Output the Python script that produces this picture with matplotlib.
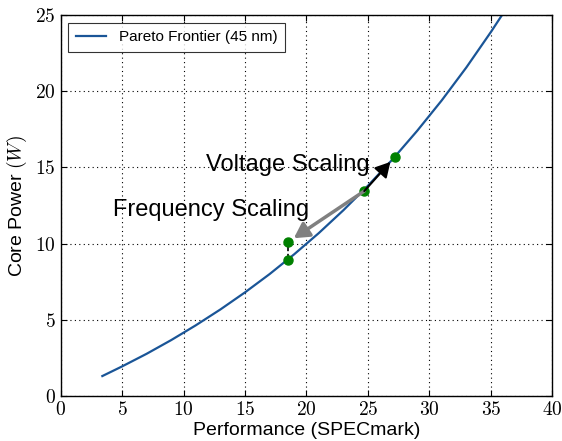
"""Pareto frontier of core power vs performance (45 nm)."""

import matplotlib
matplotlib.use("Agg")
import matplotlib.pyplot as plt
from matplotlib.ticker import FuncFormatter

plt.rcParams["font.family"] = ["Liberation Sans", "DejaVu Sans"]
plt.rcParams["mathtext.fontset"] = "cm"

# Pareto frontier
perf = [3.4, 5, 7, 9, 11, 13, 15, 17, 19, 21, 23, 25, 27, 29, 31, 33, 35, 36]
power = [1.31, 1.94, 2.77, 3.67, 4.64, 5.68, 6.80, 8.00, 9.30, 10.69,
         12.19, 13.80, 15.53, 17.40, 19.40, 21.56, 23.89, 25.12]

# operating points
base = (24.7, 13.45)
freq_pt = (18.5, 10.1)
freq_on_curve = (18.5, 8.9)
volt_pt = (27.2, 15.7)

fig = plt.figure(figsize=(5.62, 4.41), dpi=100)
ax = fig.add_axes([0.1077, 0.102, 0.8753, 0.864])

ax.plot(perf, power, color="#1a5597", lw=1.6, label="Pareto Frontier (45 nm)")

# dashed drop from freq-scaled point to the frontier
ax.plot([freq_on_curve[0], freq_pt[0]], [freq_on_curve[1], freq_pt[1]],
        color="black", ls="--", lw=1.2)

pts_x = [freq_on_curve[0], freq_pt[0], base[0], volt_pt[0]]
pts_y = [freq_on_curve[1], freq_pt[1], base[1], volt_pt[1]]
ax.plot(pts_x, pts_y, "o", color="green", ms=6.5, ls="none")

ax.annotate("", xy=freq_pt, xytext=base,
            arrowprops=dict(arrowstyle="-|>,head_length=0.9,head_width=0.5",
                            color="gray", lw=2.5, shrinkA=0, shrinkB=5))
ax.annotate("", xy=volt_pt, xytext=base,
            arrowprops=dict(arrowstyle="-|>,head_length=0.9,head_width=0.5",
                            color="black", lw=1.5, shrinkA=0, shrinkB=5))

ax.text(4.3, 12.2, "Frequency Scaling", fontsize=17, va="center", ha="left")
ax.text(11.8, 15.15, "Voltage Scaling", fontsize=17, va="center", ha="left")

ax.set_xlim(0, 40)
ax.set_ylim(0, 25)
ax.set_xticks(range(0, 41, 5))
ax.set_yticks(range(0, 26, 5))
fmt = FuncFormatter(lambda v, p: r"$%d$" % v)
ax.xaxis.set_major_formatter(fmt)
ax.yaxis.set_major_formatter(fmt)
ax.tick_params(direction="in", top=True, right=True, labelsize=14, length=4)
ax.grid(True, color="black", ls=(0, (1, 3)), lw=0.8)

ax.set_xlabel("Performance (SPECmark)", fontsize=14, labelpad=2)
ax.set_ylabel(r"Core Power $(W)$", fontsize=14, labelpad=4)

leg = ax.legend(loc="upper left", fontsize=11, fancybox=False,
                handlelength=2.0, borderpad=0.5)
leg.get_frame().set_edgecolor("black")
leg.get_frame().set_linewidth(0.8)

for s in ax.spines.values():
    s.set_linewidth(1.0)

fig.savefig("out.png", dpi=100)
